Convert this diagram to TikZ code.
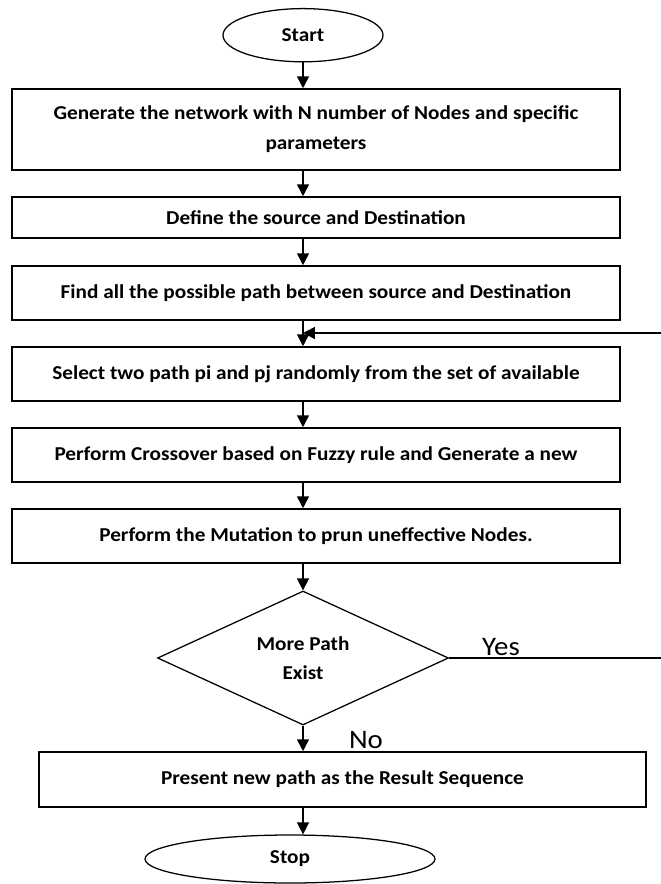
\documentclass[tikz,border=0pt]{standalone}
\usepackage{fontspec}
\setmainfont{Carlito}[FakeStretch=1.08]
\usetikzlibrary{shapes.geometric,arrows.meta}

\begin{document}
\begin{tikzpicture}[line width=1.1pt, >={Triangle[width=8.5pt,length=8.5pt]},
    proc node/.style={rectangle,draw,inner sep=0pt,align=center,font=\bfseries\fontsize{14}{21.5}\selectfont},
    term node/.style={ellipse,draw,line width=0.9pt,inner sep=0pt,font=\bfseries\fontsize{14}{21}\selectfont},
    dec node/.style={diamond,draw,line width=0.9pt,aspect=2.2,inner sep=0pt,align=center,font=\bfseries\fontsize{14}{20.5}\selectfont},
    answer/.style={inner sep=0pt,font=\fontsize{19}{21}\selectfont}]

                        \useasboundingbox (0,0) rectangle (16.525,-22.1);

                        \node[term node, minimum width=4cm, minimum height=1.33cm] at (7.575, -0.88) (start) {Start};
                        \node[proc node, minimum width=15.2cm, minimum height=2.025cm] at (7.9, -3.2375) (p1) {Generate the network with N number of Nodes and specific\\parameters};
                        \node[proc node, minimum width=15.2cm, minimum height=1.025cm] at (7.9, -5.4375) (p2) {Define the source and Destination};
                        \node[proc node, minimum width=15.2cm, minimum height=1.35cm] at (7.9, -7.325) (p3) {Find all the possible path between source and Destination};
                        \node[proc node, minimum width=15.2cm, minimum height=1.35cm] at (7.9, -9.35) (p4) {Select two path pi and pj randomly from the set of available};
                        \node[proc node, minimum width=15.2cm, minimum height=1.35cm] at (7.9, -11.375) (p5) {Perform Crossover based on Fuzzy rule and Generate a new};
                        \node[proc node, minimum width=15.2cm, minimum height=1.35cm] at (7.9, -13.4) (p6) {Perform the Mutation to prun uneffective Nodes.};
                        \node[dec node, minimum width=7.275cm, minimum height=3.35cm] at (7.575, -16.45) (d1) {More Path\\Exist};
                        \node[proc node, minimum width=15.175cm, minimum height=1.375cm] at (8.5625, -19.4875) (p7) {Present new path as the Result Sequence};
                        \node[term node, minimum width=7.25cm, minimum height=1.2cm] at (7.25, -21.475) (stop) {Stop};

                        \node[answer] at (12.525, -16.18) (yes) {Yes};
                        \node[answer] at (9.15, -18.5) (no) {No};

                        \coordinate (loop out) at (16.525, -16.45);
                        \coordinate (loop in) at (16.525, -8.325);

                        \path[->] (start.south) edge (start.south |- p1.north);
                        \path[->] (start.south |- p1.south) edge (start.south |- p2.north);
                        \path[->] (start.south |- p2.south) edge (start.south |- p3.north);
                        \path[->] (start.south |- p3.south) edge (start.south |- p4.north);
                        \path[->] (start.south |- p4.south) edge (start.south |- p5.north);
                        \path[->] (start.south |- p5.south) edge (start.south |- p6.north);
                        \path[->] (start.south |- p6.south) edge (d1.north);
                        \path[->] (d1.south) edge (d1.south |- p7.north);
                        \path[->] (d1.south |- p7.south) edge (d1.south |- stop.north);
                        \path (d1.east) edge (loop out);
                        \path[->] (loop in) edge (loop in -| start.south);

                    \end{tikzpicture}
\end{document}
